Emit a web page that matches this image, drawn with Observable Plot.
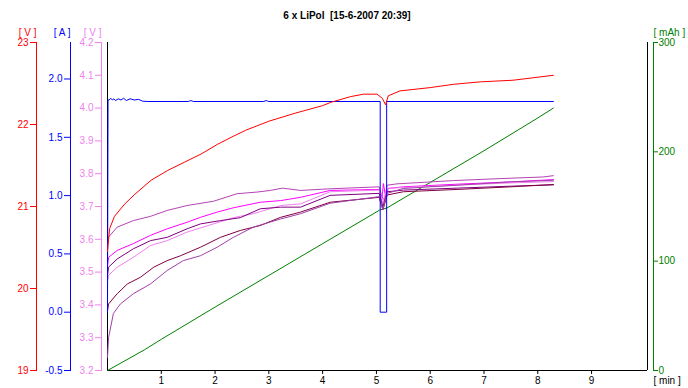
<!DOCTYPE html>
<html><head><meta charset="utf-8">
<script src="https://cdn.jsdelivr.net/npm/d3@7"></script>
<script src="https://cdn.jsdelivr.net/npm/@observablehq/plot@0.6"></script>
<style>
body{margin:0;background:#fff;}
#wrap{position:relative;width:688px;height:388px;font-family:"Liberation Sans",Arial,sans-serif;}
#wrap svg{position:absolute;left:0;top:0;}
#title{position:absolute;top:10px;left:3px;width:688px;text-align:center;font-weight:bold;font-size:10px;line-height:12px;color:#000;}
</style></head><body>
<div id="wrap"><div id="title">6 x LiPol&nbsp; [15-6-2007 20:39]</div></div>
<script>
// ---- data ----
const xDomain = [0, 10.04];
const xTicks = [1, 2, 3, 4, 5, 6, 7, 8, 9];
const redTicks = [19, 20, 21, 22, 23];
const blueTicks = [-0.5, 0.0, 0.5, 1.0, 1.5, 2.0];
const violetTicks = [3.2, 3.3, 3.4, 3.5, 3.6, 3.7, 3.8, 3.9, 4.0, 4.1, 4.2];
const greenTicks = [0, 100, 200, 300];

// pack voltage [V]
const packT = [0, 0.02, 0.04, 0.13, 0.32, 0.51, 0.81, 1.12, 1.43, 1.74, 2.05, 2.35, 2.57, 3.0, 3.5, 4.0, 4.15, 4.52, 4.76, 5.01, 5.11, 5.17, 5.22, 5.44, 6.0, 6.43, 6.93, 7.54, 8.29];
const packV = [20.45, 20.6, 20.73, 20.88, 21.03, 21.15, 21.32, 21.44, 21.54, 21.64, 21.76, 21.86, 21.93, 22.04, 22.14, 22.23, 22.27, 22.34, 22.37, 22.37, 22.32, 22.24, 22.35, 22.41, 22.45, 22.49, 22.52, 22.54, 22.60];

// current [A]
const currT = [0, 0.01, 0.03, 0.06, 0.09, 0.12, 0.15, 0.2, 0.25, 0.3, 0.35, 0.42, 0.5, 0.58, 0.65, 0.75, 1.5, 1.55, 1.6, 2.9, 2.95, 3.0, 5.07, 5.07, 5.19, 5.19, 8.29];
const currA = [0.0, 1.82, 1.82, 1.835, 1.82, 1.83, 1.815, 1.83, 1.82, 1.835, 1.815, 1.83, 1.82, 1.825, 1.81, 1.807, 1.807, 1.815, 1.807, 1.807, 1.815, 1.807, 1.807, 0.0, 0.0, 1.807, 1.807];

// charged capacity [mAh]
const capT = [0, 0.69, 1, 2, 3, 4, 5.07, 5.19, 6, 7, 8, 8.29];
const capM = [0, 19, 28.5, 58, 87, 116, 147, 148.5, 172, 201, 231, 240];

// cell voltages [V]
const cellAT = [0, 0.02, 0.18, 0.48, 0.8, 1.11, 1.48, 1.97, 2.41, 2.78, 3.03, 3.25, 3.59, 4.14, 5.05, 5.1, 5.15, 5.2, 5.38, 6.43, 7.3, 8.1, 8.29];
const cellAV = [3.58, 3.607, 3.637, 3.657, 3.67, 3.688, 3.703, 3.716, 3.739, 3.744, 3.749, 3.756, 3.749, 3.754, 3.76, 3.73, 3.72, 3.765, 3.769, 3.779, 3.785, 3.79, 3.794];
const cellBT = [0, 0.02, 0.18, 0.48, 0.8, 1.11, 1.48, 1.73, 2.04, 2.34, 2.84, 3.22, 3.59, 4.14, 5.05, 5.1, 5.13, 5.17, 5.22, 5.5, 6.5, 7.5, 8.29];
const cellBV = [3.52, 3.545, 3.566, 3.587, 3.612, 3.632, 3.652, 3.667, 3.683, 3.696, 3.713, 3.718, 3.728, 3.749, 3.752, 3.72, 3.77, 3.73, 3.755, 3.76, 3.768, 3.775, 3.782];
const cellCT = [0, 0.02, 0.18, 0.48, 0.8, 1.11, 1.48, 1.97, 2.34, 2.71, 3.22, 3.59, 4.14, 5.05, 5.12, 5.2, 5.5, 6.5, 7.5, 8.29];
const cellCV = [3.47, 3.49, 3.515, 3.545, 3.581, 3.596, 3.622, 3.647, 3.666, 3.678, 3.703, 3.708, 3.745, 3.75, 3.71, 3.755, 3.758, 3.765, 3.772, 3.776];
const cellDT = [0, 0.02, 0.18, 0.48, 0.8, 1.11, 1.48, 1.73, 2.1, 2.47, 2.84, 3.22, 3.59, 4.14, 5.05, 5.12, 5.2, 5.5, 6.5, 7.5, 8.29];
const cellDV = [3.49, 3.515, 3.54, 3.571, 3.596, 3.606, 3.632, 3.647, 3.657, 3.666, 3.693, 3.698, 3.698, 3.734, 3.74, 3.70, 3.745, 3.75, 3.756, 3.762, 3.766];
const cellET = [0, 0.02, 0.18, 0.37, 0.61, 0.86, 1.11, 1.36, 1.73, 2.1, 2.47, 2.84, 3.22, 3.59, 4.14, 5.05, 5.12, 5.2, 5.5, 6.5, 7.5, 8.29];
const cellEV = [3.38, 3.403, 3.434, 3.464, 3.484, 3.515, 3.535, 3.55, 3.576, 3.606, 3.627, 3.642, 3.667, 3.683, 3.713, 3.728, 3.69, 3.735, 3.745, 3.752, 3.76, 3.767];
const cellFT = [0, 0.02, 0.11, 0.24, 0.48, 0.8, 1.11, 1.41, 1.73, 2.04, 2.34, 2.71, 3.22, 3.59, 4.14, 5.05, 5.12, 5.2, 5.5, 6.5, 7.5, 8.29];
const cellFV = [3.24, 3.3, 3.374, 3.403, 3.434, 3.464, 3.505, 3.535, 3.55, 3.576, 3.606, 3.637, 3.662, 3.678, 3.71, 3.73, 3.69, 3.74, 3.755, 3.765, 3.775, 3.78];

const cellColors = ["#b444b4", "#ff00ff", "#f080f0", "#800080", "#800040", "#a040a8"];

// ---- build ----
const zip = (T, V) => T.map((t, i) => ({t, v: V[i]}));
const cells = [[cellAT, cellAV], [cellBT, cellBV], [cellCT, cellCV], [cellDT, cellDV], [cellET, cellEV], [cellFT, cellFV]]
  .map(([T, V], k) => ({data: zip(T, V), color: cellColors[k]}));

const W = 688, H = 388, MT = 42, MB = 18;
const common = {
  width: W, height: H, marginTop: MT, marginBottom: MB,
  style: {background: "transparent", fontFamily: "'Liberation Sans', Arial, sans-serif", fontSize: "10px", overflow: "visible"},
};
const xOpt = {domain: xDomain, range: [107, 647]};
const wrap = document.getElementById("wrap");
const plain = d => String(d);
const one = d => d.toFixed(1);

// green (capacity) + frame + x axis
wrap.appendChild(Plot.plot({
  ...common, marginLeft: 107, marginRight: 35,
  x: xOpt,
  y: {domain: [0, 300]},
  marks: [
    Plot.ruleX(xDomain, {stroke: "black"}),
    Plot.ruleY([0], {x1: xDomain[0], x2: xDomain[1], stroke: "black"}),
    Plot.axisX(xTicks, {anchor: "bottom", tickSize: 4, tickPadding: 2, stroke: "black", fill: "black", tickFormat: plain, label: null}),
    Plot.text(["[ min ]"], {frameAnchor: "bottom-right", textAnchor: "start", dy: 13, fill: "black"}),
    Plot.frame({anchor: "right", stroke: "green"}),
    Plot.axisY(greenTicks, {anchor: "right", tickSize: 4, tickPadding: 1, stroke: "green", fill: "green", tickFormat: plain, label: null}),
    Plot.text(["[ mAh ]"], {frameAnchor: "top-right", textAnchor: "start", dy: -14, fill: "green"}),
    Plot.line(zip(capT, capM), {x: "t", y: "v", stroke: "green", strokeWidth: 1})
  ]
}));

// violet (cell voltage)
wrap.appendChild(Plot.plot({
  ...common, marginLeft: 101, marginRight: 0,
  x: {...xOpt, axis: null},
  y: {domain: [3.2, 4.2]},
  marks: [
    Plot.frame({anchor: "left", stroke: "violet"}),
    Plot.axisY(violetTicks, {anchor: "left", tickSize: 6, tickPadding: 2, stroke: "violet", fill: "violet", tickFormat: one, label: null}),
    Plot.text(["[ V ]"], {frameAnchor: "top-left", textAnchor: "end", dy: -14, fill: "violet"}),
    ...cells.map(c => Plot.line(c.data, {x: "t", y: "v", stroke: c.color, strokeWidth: 1}))
  ]
}));

// blue (current)
wrap.appendChild(Plot.plot({
  ...common, marginLeft: 70, marginRight: 0,
  x: {...xOpt, axis: null},
  y: {domain: [-0.5, 2.313]},
  marks: [
    Plot.frame({anchor: "left", stroke: "blue"}),
    Plot.axisY(blueTicks, {anchor: "left", tickSize: 6, tickPadding: 2, stroke: "blue", fill: "blue", tickFormat: one, label: null}),
    Plot.text(["[ A ]"], {frameAnchor: "top-left", textAnchor: "end", dy: -14, fill: "blue"}),
    Plot.line(zip(currT, currA), {x: "t", y: "v", stroke: "blue", strokeWidth: 1})
  ]
}));

// red (pack voltage)
wrap.appendChild(Plot.plot({
  ...common, marginLeft: 36, marginRight: 0,
  x: {...xOpt, axis: null},
  y: {domain: [19, 23]},
  marks: [
    Plot.frame({anchor: "left", stroke: "red"}),
    Plot.axisY(redTicks, {anchor: "left", tickSize: 6, tickPadding: 2, stroke: "red", fill: "red", tickFormat: plain, label: null}),
    Plot.text(["[ V ]"], {frameAnchor: "top-left", textAnchor: "end", dy: -14, fill: "red"}),
    Plot.line(zip(packT, packV), {x: "t", y: "v", stroke: "red", strokeWidth: 1})
  ]
}));
</script>
</body></html>
